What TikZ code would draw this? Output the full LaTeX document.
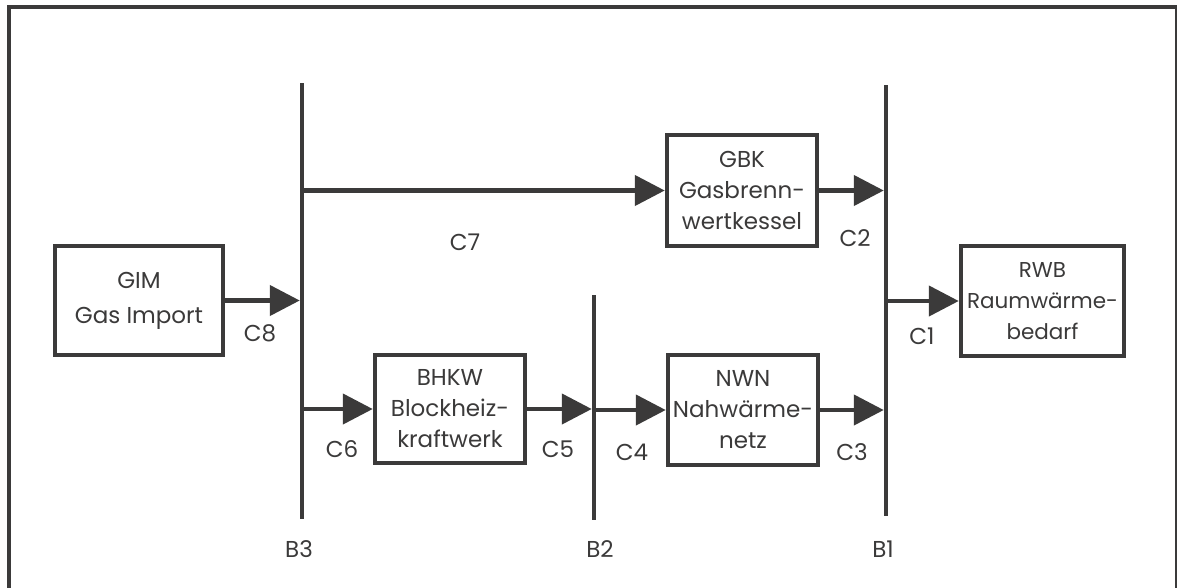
\documentclass[tikz,border=0pt]{standalone}
\usepackage{fontspec}
\setmainfont{Poppins}
\usetikzlibrary{arrows.meta}
\definecolor{ink}{HTML}{3B3A3A}
\begin{document}
\begin{tikzpicture}[x=1pt,y=-1pt,
  every node/.style={text=ink,font=\fontsize{23}{31}\selectfont},
  box/.style={draw=ink,line width=4.5pt,minimum width=#1,minimum height=109pt,inner sep=0pt,align=center},
  bus/.style={fill=ink,minimum width=4.5pt,minimum height=#1,inner sep=0pt,outer sep=0pt},
  arr/.style={draw=ink,line width=4.5pt,-{Triangle[length=30pt,width=30pt]}},
  lbl/.style={inner sep=0pt}]
\useasboundingbox (0,0) rectangle (1177,587);
\clip (0,0) rectangle (1177,587);
\fill[white] (0,0) rectangle (1177,587);
\draw[ink,line width=4.5pt] (9,620) -- (9,7) -- (1177.5,7) -- (1177.5,620);
% buses
\node[bus=436pt] (B3) at (302,301) {};
\node[bus=225pt] (B2) at (594,407.5) {};
\node[bus=431pt] (B1) at (886,300) {};
\node[lbl] at (299,549) {B3};
\node[lbl] at (600,549) {B2};
\node[lbl] at (883,549) {B1};
% boxes
\node[box=168pt] (GIM) at (139,300.5) {GIM\\[4pt]Gas Import};
\node[box=150pt,minimum height=111pt] (GBK) at (742,190.5) {GBK\\Gasbrenn-\\wertkessel};
\node[box=163pt,minimum height=110pt,font=\fontsize{21.5}{31}\selectfont] (RWB) at (1042.5,301) {RWB\\Raumwärme-\\bedarf};
\node[box=150pt,minimum height=108pt] (BHKW) at (450,409) {BHKW\\Blockheiz-\\kraftwerk};
\node[box=150pt,minimum height=110pt] (NWN) at (743,410) {NWN\\Nahwärme-\\netz};
% connectors
\draw[arr] (GIM.east) -- (GIM.east -| B3.west);
\draw[arr] (B3.east |- GBK.west) -- (GBK.west);
\draw[arr] (GBK.east) -- (GBK.east -| B1.west);
\draw[arr] (B1.east |- RWB.west) -- (RWB.west);
\draw[arr] (B3.east |- BHKW.west) -- (BHKW.west);
\draw[arr] (BHKW.east) -- (BHKW.east -| B2.west);
\draw[arr] (B2.east |- NWN.west) -- (NWN.west);
\draw[arr] (NWN.east) -- (NWN.east -| B1.west);
% labels
\node[lbl] at (260,333) {C8};
\node[lbl] at (465,242) {C7};
\node[lbl] at (855,238) {C2};
\node[lbl] at (922,336) {C1};
\node[lbl] at (342,449) {C6};
\node[lbl] at (558,449) {C5};
\node[lbl] at (632,452) {C4};
\node[lbl] at (852,452) {C3};
\end{tikzpicture}
\end{document}
